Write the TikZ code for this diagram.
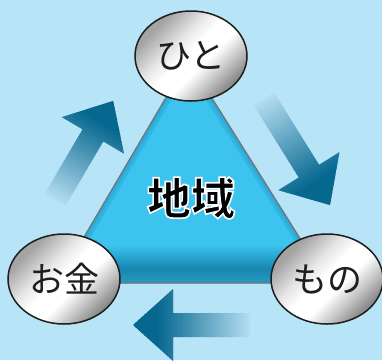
\documentclass[tikz,border=0pt]{standalone}
\usepackage{fontspec}
\newfontfamily\jp{Noto Sans CJK JP}
\usetikzlibrary{shapes.geometric}
\definecolor{bg}{HTML}{B8E4F8}
\definecolor{tri}{HTML}{3CC4EE}
\definecolor{triedge}{HTML}{1C97C6}
\definecolor{banddark}{HTML}{1686AF}
\definecolor{bandbot}{HTML}{2A9BC4}
\definecolor{trline}{HTML}{737373}
\definecolor{afl}{HTML}{B2DCEF}
\definecolor{afd}{HTML}{06678F}
\definecolor{sv1}{HTML}{A4A4A4}
\definecolor{sv2}{HTML}{E4E4E4}
\definecolor{sv3}{HTML}{CACACA}
\definecolor{sv4}{HTML}{8A8A8A}
\definecolor{ink}{HTML}{1E1E1E}
\pgfdeclarehorizontalshading{silver}{100bp}{color(0bp)=(sv1); color(28bp)=(sv1); color(40bp)=(sv2); color(48bp)=(white); color(57bp)=(white); color(65bp)=(sv3); color(74bp)=(sv4); color(100bp)=(sv4)}
\pgfdeclareverticalshading{band}{100bp}{color(0bp)=(bandbot); color(25bp)=(bandbot); color(45bp)=(banddark); color(75bp)=(tri); color(100bp)=(tri)}
\newcommand\outlinedtext[1]{\special{pdf:literal direct 1 1 1 RG 1.6 w 2 Tr}#1\special{pdf:literal direct 0 Tr 0 G}}
\newcommand\myfatarrow[3]{%
  \begin{scope}[shift={(#1)}, rotate=#2]
    \begin{scope}
      \clip (0,-12) -- ({#3-40},-12) -- ({#3-40},-36) -- (#3,0) -- ({#3-40},36) -- ({#3-40},12) -- (0,12) -- cycle;
      \foreach \k in {0,...,39}{
        \pgfmathsetmacro\pc{min(100,\k*100/31)}
        \fill[afd!\pc!afl] ({\k*#3/40},-40) rectangle ({(\k+1)*#3/40+0.6},40);
      }
    \end{scope}
  \end{scope}}
\tikzset{
  metal/.style={ellipse, minimum width=112pt, minimum height=90pt, inner sep=0pt,
    shade, shading=silver, shading angle=-45, draw=ink, line width=1.5pt,
    font=\jp\fontsize{35}{35}\selectfont, text=ink},
  center label/.style={font=\jp\bfseries\fontsize{44}{44}\selectfont, text=black, inner sep=0pt},
  tri outline/.style={draw=trline, line width=1.2pt, line join=round},
}
\begin{document}
\begin{tikzpicture}[x=1pt,y=-1pt]
  \useasboundingbox (0,0) rectangle (382,360);
  \fill[bg] (0,0) rectangle (382,360);
  % arrows
  \coordinate (t1) at (55,200);
  \coordinate (t2) at (264,99);
  \coordinate (t3) at (250,325);
  \myfatarrow{t1}{59.6}{115}
  \myfatarrow{t2}{-58.1}{125}
  \myfatarrow{t3}{180}{117}
  % triangle
  \coordinate (A) at (188,60);
  \coordinate (B) at (57,283);
  \coordinate (C) at (328,283);
  \fill[tri] (A) -- (B) -- (C) -- cycle;
  \begin{scope}
    \clip (A) -- (B) -- (C) -- cycle;
    \draw[triedge, line width=12pt, opacity=0.3] (A) -- (B) -- (C) -- cycle;
    \draw[triedge, line width=6pt, opacity=0.3] (A) -- (B) -- (C) -- cycle;
    \shade[shading=band] (40,245) rectangle (345,284);
  \end{scope}
  \draw[tri outline] (A) -- (B) -- (C) -- cycle;
  \node[center label] (chiiki) at (191,198) {\outlinedtext{地域}};
  % ellipses
  \node[metal] (hito) at (191,56) {ひと};
  \node[metal] (okane) at (64,279) {お金};
  \node[metal] (mono) at (327,279) {もの};
\end{tikzpicture}
\end{document}
